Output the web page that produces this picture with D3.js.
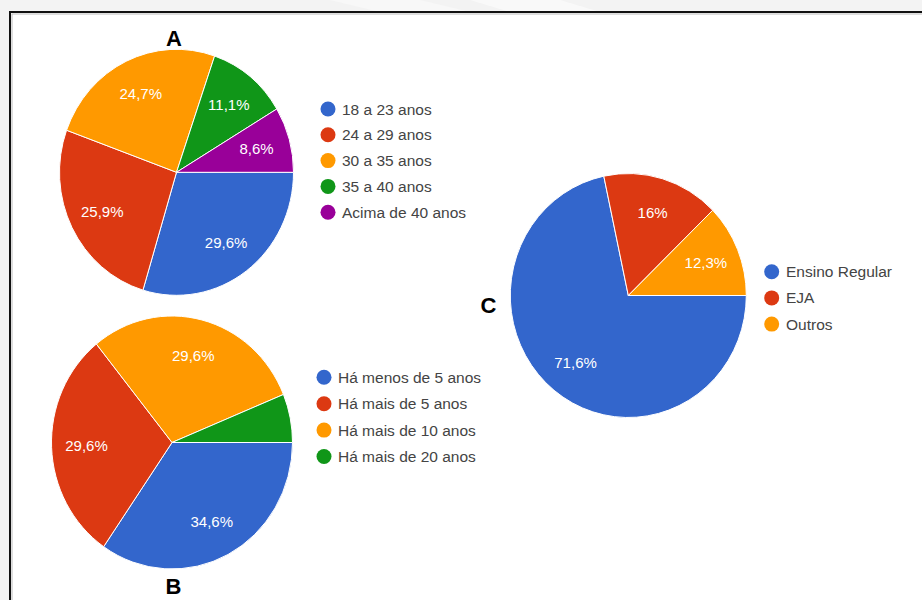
<!DOCTYPE html>
<html>
<head>
<meta charset="utf-8">
<script src="https://cdn.jsdelivr.net/npm/d3@7/dist/d3.min.js"></script>
<style>
  html, body { margin: 0; padding: 0; background: #f3f3f3; }
  svg { display: block; }
</style>
</head>
<body>
<svg id="chart" width="922" height="600"></svg>
<script>
// ---- DATA ----
const categoriesA = ["18 a 23 anos", "24 a 29 anos", "30 a 35 anos", "35 a 40 anos", "Acima de 40 anos"];
const valuesA = [29.6, 25.9, 24.7, 11.1, 8.6];

const categoriesB = ["Há menos de 5 anos", "Há mais de 5 anos", "Há mais de 10 anos", "Há mais de 20 anos"];
const valuesB = [34.6, 29.6, 29.6, 6.2];

const categoriesC = ["Ensino Regular", "EJA", "Outros"];
const valuesC = [71.6, 16, 12.3];

const titles = ["A", "B", "C"];

// ---- STYLE / LAYOUT ----
const colors = ["#3366cc", "#dc3912", "#ff9900", "#109618", "#990099"];
const svg = d3.select("#chart");

// background pattern & frame
svg.append("rect").attr("x", 0).attr("y", 0).attr("width", 922).attr("height", 600).attr("fill", "#f3f3f3");
svg.append("polygon").attr("points", "330,0 420,0 470,12 380,12").attr("fill", "#f8f8f8");
svg.append("polygon").attr("points", "470,0 560,0 600,12 510,12").attr("fill", "#f9f9f9");
svg.append("rect").attr("x", 10).attr("y", 12).attr("width", 940).attr("height", 620)
  .attr("fill", "#ffffff").attr("stroke", "#111").attr("stroke-width", 2);
svg.append("rect").attr("x", 12).attr("y", 14).attr("width", 940).attr("height", 620)
  .attr("fill", "none").attr("stroke", "#bbb").attr("stroke-width", 1);

const pies = [
  { cats: categoriesA, vals: valuesA, cx: 176.5, cy: 172.3, rx: 117, ry: 123,
    legend: { cx: 328, tx: 342, y0: 109, dy: 25.8 },
    title: { x: 174, y: 46 } },
  { cats: categoriesB, vals: valuesB, cx: 172, cy: 442.5, rx: 120.5, ry: 126.5,
    legend: { cx: 324, tx: 338, y0: 377.3, dy: 26.4 },
    title: { x: 173.5, y: 594 } },
  { cats: categoriesC, vals: valuesC, cx: 628.3, cy: 295.5, rx: 118, ry: 122,
    legend: { cx: 771.7, tx: 786, y0: 271.7, dy: 26.2 },
    title: { x: 488.5, y: 313 } }
];

const fmt = v => String(v).replace(".", ",") + "%";

pies.forEach((p, i) => {
  const pie = d3.pie().sort(null).value(d => d)
    .startAngle(Math.PI / 2).endAngle(Math.PI / 2 + 2 * Math.PI);
  const arcs = pie(p.vals);
  const arc = d3.arc().innerRadius(0).outerRadius(p.rx);
  const total = d3.sum(p.vals);

  const g = svg.append("g")
    .attr("transform", `translate(${p.cx},${p.cy}) scale(1,${p.ry / p.rx})`);
  g.selectAll("path").data(arcs).enter().append("path")
    .attr("d", arc)
    .attr("fill", (d, j) => colors[j])
    .attr("stroke", "#ffffff")
    .attr("stroke-width", 1)
    .attr("vector-effect", "non-scaling-stroke");

  const k = 0.71;
  svg.append("g").selectAll("text").data(arcs.filter(d => d.value / total >= 0.07)).enter()
    .append("text")
    .attr("x", d => p.cx + k * p.rx * Math.sin((d.startAngle + d.endAngle) / 2))
    .attr("y", d => p.cy - k * p.ry * Math.cos((d.startAngle + d.endAngle) / 2))
    .attr("dy", "0.36em")
    .attr("text-anchor", "middle")
    .attr("font-family", "Liberation Sans, Arial, sans-serif")
    .attr("font-size", 15)
    .attr("fill", "#ffffff")
    .text(d => fmt(d.value));

  // legend
  const lg = svg.append("g");
  const items = lg.selectAll("g").data(p.cats).enter().append("g")
    .attr("transform", (d, j) => `translate(0,${p.legend.y0 + j * p.legend.dy})`);
  items.append("circle").attr("cx", p.legend.cx).attr("cy", 0).attr("r", 7.5)
    .attr("fill", (d, j) => colors[j]);
  items.append("text").attr("x", p.legend.tx).attr("y", 0).attr("dy", "0.36em")
    .attr("font-family", "Liberation Sans, Arial, sans-serif")
    .attr("font-size", 15.5)
    .attr("fill", "#444")
    .text(d => d);

  // title
  svg.append("text").attr("x", p.title.x).attr("y", p.title.y)
    .attr("text-anchor", "middle")
    .attr("font-family", "Liberation Sans, Arial, sans-serif")
    .attr("font-weight", "bold")
    .attr("font-size", 22)
    .attr("fill", "#000")
    .text(titles[i]);
});
</script>
</body>
</html>
